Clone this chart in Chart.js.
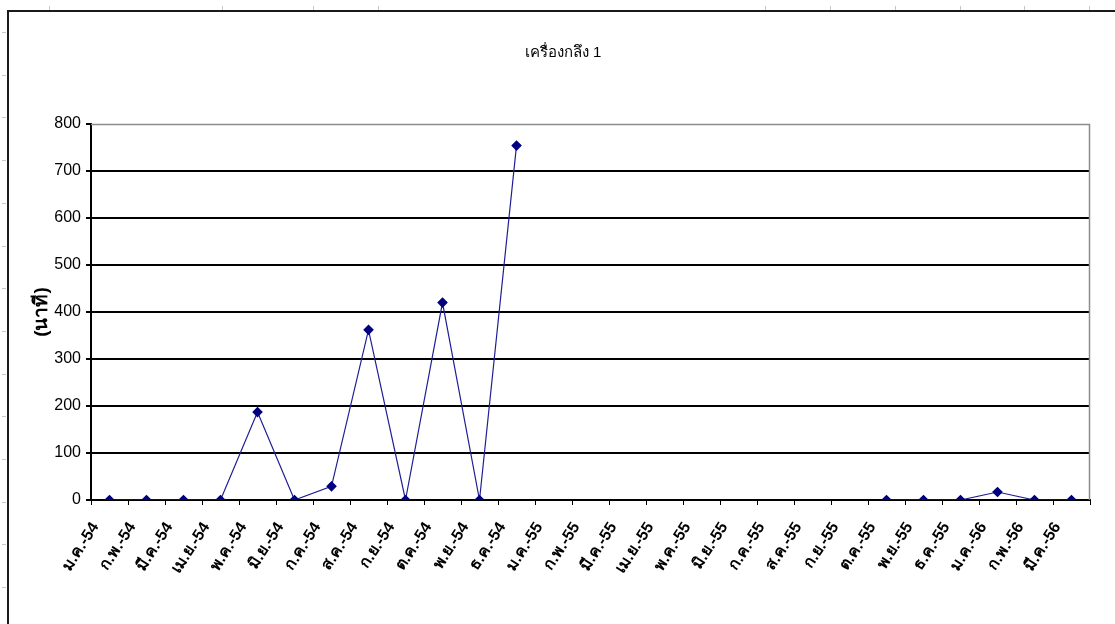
<!DOCTYPE html>
<html>
<head>
<meta charset="utf-8">
<script src="https://cdn.jsdelivr.net/npm/chart.js@4.4.1/dist/chart.umd.min.js"></script>
<style>
  html, body { margin: 0; padding: 0; background: #ffffff; }
  #wrap { width: 1115px; height: 624px; position: relative; }
</style>
</head>
<body>
<div id="wrap"><canvas id="c" width="1115" height="624"></canvas></div>
<script>
// Monthly downtime of lathe no. 1 (minutes)
const months = [
  'ม.ค.-54', 'ก.พ.-54', 'มี.ค.-54', 'เม.ย.-54', 'พ.ค.-54', 'มิ.ย.-54',
  'ก.ค.-54', 'ส.ค.-54', 'ก.ย.-54', 'ต.ค.-54', 'พ.ย.-54', 'ธ.ค.-54',
  'ม.ค.-55', 'ก.พ.-55', 'มี.ค.-55', 'เม.ย.-55', 'พ.ค.-55', 'มิ.ย.-55',
  'ก.ค.-55', 'ส.ค.-55', 'ก.ย.-55', 'ต.ค.-55', 'พ.ย.-55', 'ธ.ค.-55',
  'ม.ค.-56', 'ก.พ.-56', 'มี.ค.-56'
];
const minutes = [
  0, 0, 0, 0, 187, 0,
  29, 362, 0, 420, 0, 754,
  null, null, null, null, null, null,
  null, null, null, 0, 0, 0,
  17, 0, 0
];
const yTicks = [0, 100, 200, 300, 400, 500, 600, 700, 800];
const chartTitle = 'เครื่องกลึง 1';
const yTitle = '(นาที)';

const baseFont = "'Liberation Sans Narrow', 'Liberation Sans', 'DejaVu Sans', sans-serif";

// Sheet frame, chart heading and the plot-area border lines
const framePlugin = {
  id: 'frame',
  beforeDraw(chart) {
    const ctx = chart.ctx;
    ctx.save();
    ctx.fillStyle = '#ffffff';
    ctx.fillRect(0, 0, chart.width, chart.height);
    // faint ruler marks
    ctx.strokeStyle = '#c8c8c8';
    ctx.lineWidth = 1;
    [49, 222, 313, 378, 765, 830, 895, 960, 1024, 1089].forEach(x => {
      ctx.beginPath(); ctx.moveTo(x + 0.5, 6); ctx.lineTo(x + 0.5, 10); ctx.stroke();
    });
    for (let y = 32; y < 624; y += 42.7) {
      ctx.beginPath(); ctx.moveTo(2, Math.round(y) + 0.5); ctx.lineTo(6, Math.round(y) + 0.5); ctx.stroke();
    }
    // sheet border
    ctx.strokeStyle = '#1a1a1a';
    ctx.lineWidth = 2;
    ctx.beginPath();
    ctx.moveTo(8, 624);
    ctx.lineTo(8, 11);
    ctx.lineTo(1115, 11);
    ctx.stroke();
    // heading
    ctx.fillStyle = '#000000';
    ctx.font = "15px " + baseFont;
    ctx.textAlign = 'center';
    ctx.textBaseline = 'middle';
    ctx.fillText(chartTitle, 563, 53);
    ctx.restore();
  },
  beforeDatasetsDraw(chart) {
    const a = chart.chartArea;
    const ctx = chart.ctx;
    ctx.save();
    ctx.strokeStyle = '#8c8c8c';
    ctx.lineWidth = 1.5;
    ctx.beginPath();
    ctx.moveTo(a.left, a.top + 0.5);
    ctx.lineTo(a.right - 0.5, a.top + 0.5);
    ctx.lineTo(a.right - 0.5, a.bottom);
    ctx.stroke();
    ctx.restore();
  }
};

new Chart(document.getElementById('c'), {
  type: 'line',
  data: {
    labels: months,
    datasets: [{
      data: minutes,
      borderColor: '#1f1f95',
      backgroundColor: '#000080',
      borderWidth: 1.2,
      pointStyle: 'rectRot',
      pointRadius: 4.5,
      pointBorderColor: '#000080',
      pointBackgroundColor: '#000080',
      spanGaps: false,
      tension: 0
    }]
  },
  options: {
    responsive: false,
    animation: false,
    devicePixelRatio: 1,
    layout: { padding: { left: 30, right: 25, top: 124, bottom: 0 } },
    plugins: {
      legend: { display: false },
      tooltip: { enabled: false },
      title: { display: false }
    },
    scales: {
      x: {
        offset: true,
        grid: {
          display: true,
          offset: true,
          drawOnChartArea: false,
          drawTicks: true,
          tickLength: 5,
          color: '#000000',
          lineWidth: 1
        },
        border: { display: true, color: '#000000', width: 2 },
        ticks: {
          autoSkip: false,
          maxRotation: 57,
          minRotation: 57,
          padding: 14,
          labelOffset: -14,
          color: '#000000',
          font: { family: baseFont, size: 16, weight: 'bold' }
        },
        afterFit(s) { s.height = 124; }
      },
      y: {
        min: 0,
        max: 800,
        afterBuildTicks(s) { s.ticks = yTicks.map(v => ({ value: v })); },
        grid: {
          color(ctx) {
            const v = ctx.tick && ctx.tick.value;
            return (v === 0 || v === 800) ? 'rgba(0,0,0,0)' : '#000000';
          },
          lineWidth: 2,
          drawTicks: true,
          tickLength: 5,
          tickColor: '#000000'
        },
        border: { display: true, color: '#000000', width: 2 },
        ticks: {
          padding: 5,
          color: '#000000',
          font: { family: baseFont, size: 16 }
        },
        title: {
          display: true,
          text: yTitle,
          color: '#000000',
          font: { family: baseFont, size: 19, weight: 'bold' },
          padding: { top: 0, bottom: 2 }
        },
        afterFit(s) { s.width = 61; }
      }
    }
  },
  plugins: [framePlugin]
});
</script>
</body>
</html>
